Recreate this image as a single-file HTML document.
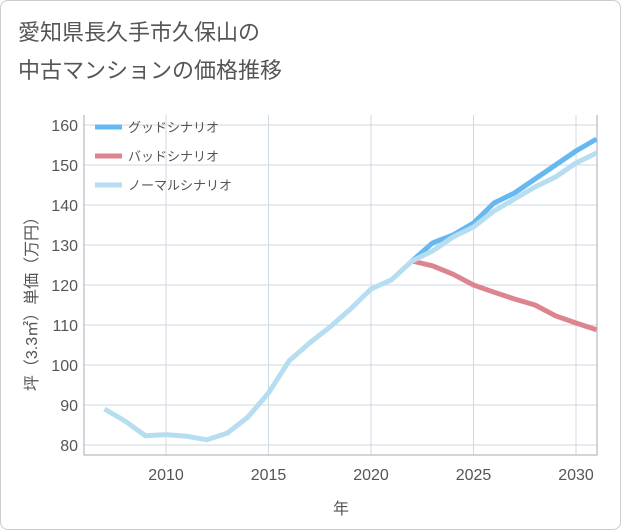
<!DOCTYPE html>
<html><head><meta charset="utf-8"><style>
body{margin:0;background:#fff;font-family:"Liberation Sans","Noto Sans CJK JP",sans-serif;}
#wrap{width:619px;height:528px;border:1px solid #ccc;border-radius:8px;position:relative;overflow:hidden;}
</style></head><body>
<div id="wrap">
<svg id="chart" width="621" height="530" style="position:absolute;left:-1px;top:-1px">
<text x="18" y="40" font-size="22" fill="#555">愛知県長久手市久保山の</text>
<text x="18" y="78" font-size="22" fill="#555">中古マンションの価格推移</text>
<text transform="translate(37,300) rotate(-90)" text-anchor="middle" font-size="16" fill="#555">坪（3.3㎡）単価（万円）</text>
<text x="341" y="514" text-anchor="middle" font-size="16" fill="#555">年</text>
<g id="grid"></g><g id="lines"></g><g id="legend"></g>
</svg>
</div>
<script>
const years=[2007,2008,2009,2010,2011,2012,2013,2014,2015,2016,2017,2018,2019,2020,2021,2022,2023,2024,2025,2026,2027,2028,2029,2030,2031];
const normalValues=[89,86,82.3,82.6,82.2,81.3,83,87,93,101,105.5,109.5,114,119,121.3,126,128.5,132,134.5,138.5,141.5,144.5,147,150.5,153];
const goodYears=[2022,2023,2024,2025,2026,2027,2028,2029,2030,2031];
const goodValues=[126,130.5,132.5,135.5,140.5,143,146.5,150,153.5,156.5];
const badValues=[126,124.8,122.7,120,118.2,116.5,115,112.3,110.5,108.8];
const yTicks=[80,90,100,110,120,130,140,150,160];
const xTicks=[2010,2015,2020,2025,2030];
const NS="http://www.w3.org/2000/svg";
const x0=84,x1=597,y0=115,y1=455;
const xs=y=>166+(y-2010)*(576-166)/20;
const ys=v=>445-(v-80)*4;
function mk(t,a,p){const e=document.createElementNS(NS,t);for(const k in a)e.setAttribute(k,a[k]);p.appendChild(e);return e;}
const grid=document.getElementById('grid');
const bg=mk('rect',{x:x0,y:y0,width:x1-x0,height:y1-y0,fill:'#fff',stroke:'none'},grid);


yTicks.forEach(v=>{
 const l=mk('line',{x1:x0,x2:x1,y1:ys(v),y2:ys(v),stroke:'#d0dae3','stroke-width':1},grid);
 
 
 const t=mk('text',{x:78,y:ys(v)+6,'text-anchor':'end','font-size':16,fill:'#555'},grid);t.textContent=v;
 
 
});
xTicks.forEach(v=>{
 const l=mk('line',{x1:xs(v),x2:xs(v),y1:y0,y2:y1,stroke:'#d0dae3','stroke-width':1},grid);
 
 
 const t=mk('text',{x:xs(v),y:480,'text-anchor':'middle','font-size':16,fill:'#555'},grid);t.textContent=v;
 
 
});
const ax=mk('path',{d:`M${x0} ${y0}V${y1}H${x1}V${y0}`,fill:'none',stroke:'#aab','stroke-width':1},grid);


const lines=document.getElementById('lines');
function series(xv,yv,c,name){
 const p=mk('polyline',{points:xv.map((y,i)=>xs(y)+','+ys(yv[i])).join(' '),fill:'none',stroke:c,'stroke-width':5,'stroke-linejoin':'round'},lines);
 
 
}
series(goodYears,badValues,'#dd858e','bad-scenario-line');
series(goodYears,goodValues,'#66b8f0','good-scenario-line');
series(years,normalValues,'#b7def0','normal-scenario-line');
const lg=document.getElementById('legend');
[['グッドシナリオ','#66b8f0'],['バッドシナリオ','#dd858e'],['ノーマルシナリオ','#b7def0']].forEach((d,i)=>{
 const y=127+i*29;
 const g=mk('g',{},lg);
 
 
 mk('line',{x1:95,x2:122,y1:y,y2:y,stroke:d[1],'stroke-width':5},g);
 const t=mk('text',{x:128,y:y+5,'font-size':13,fill:'#555'},g);t.textContent=d[0];
});
</script>
</body></html>
